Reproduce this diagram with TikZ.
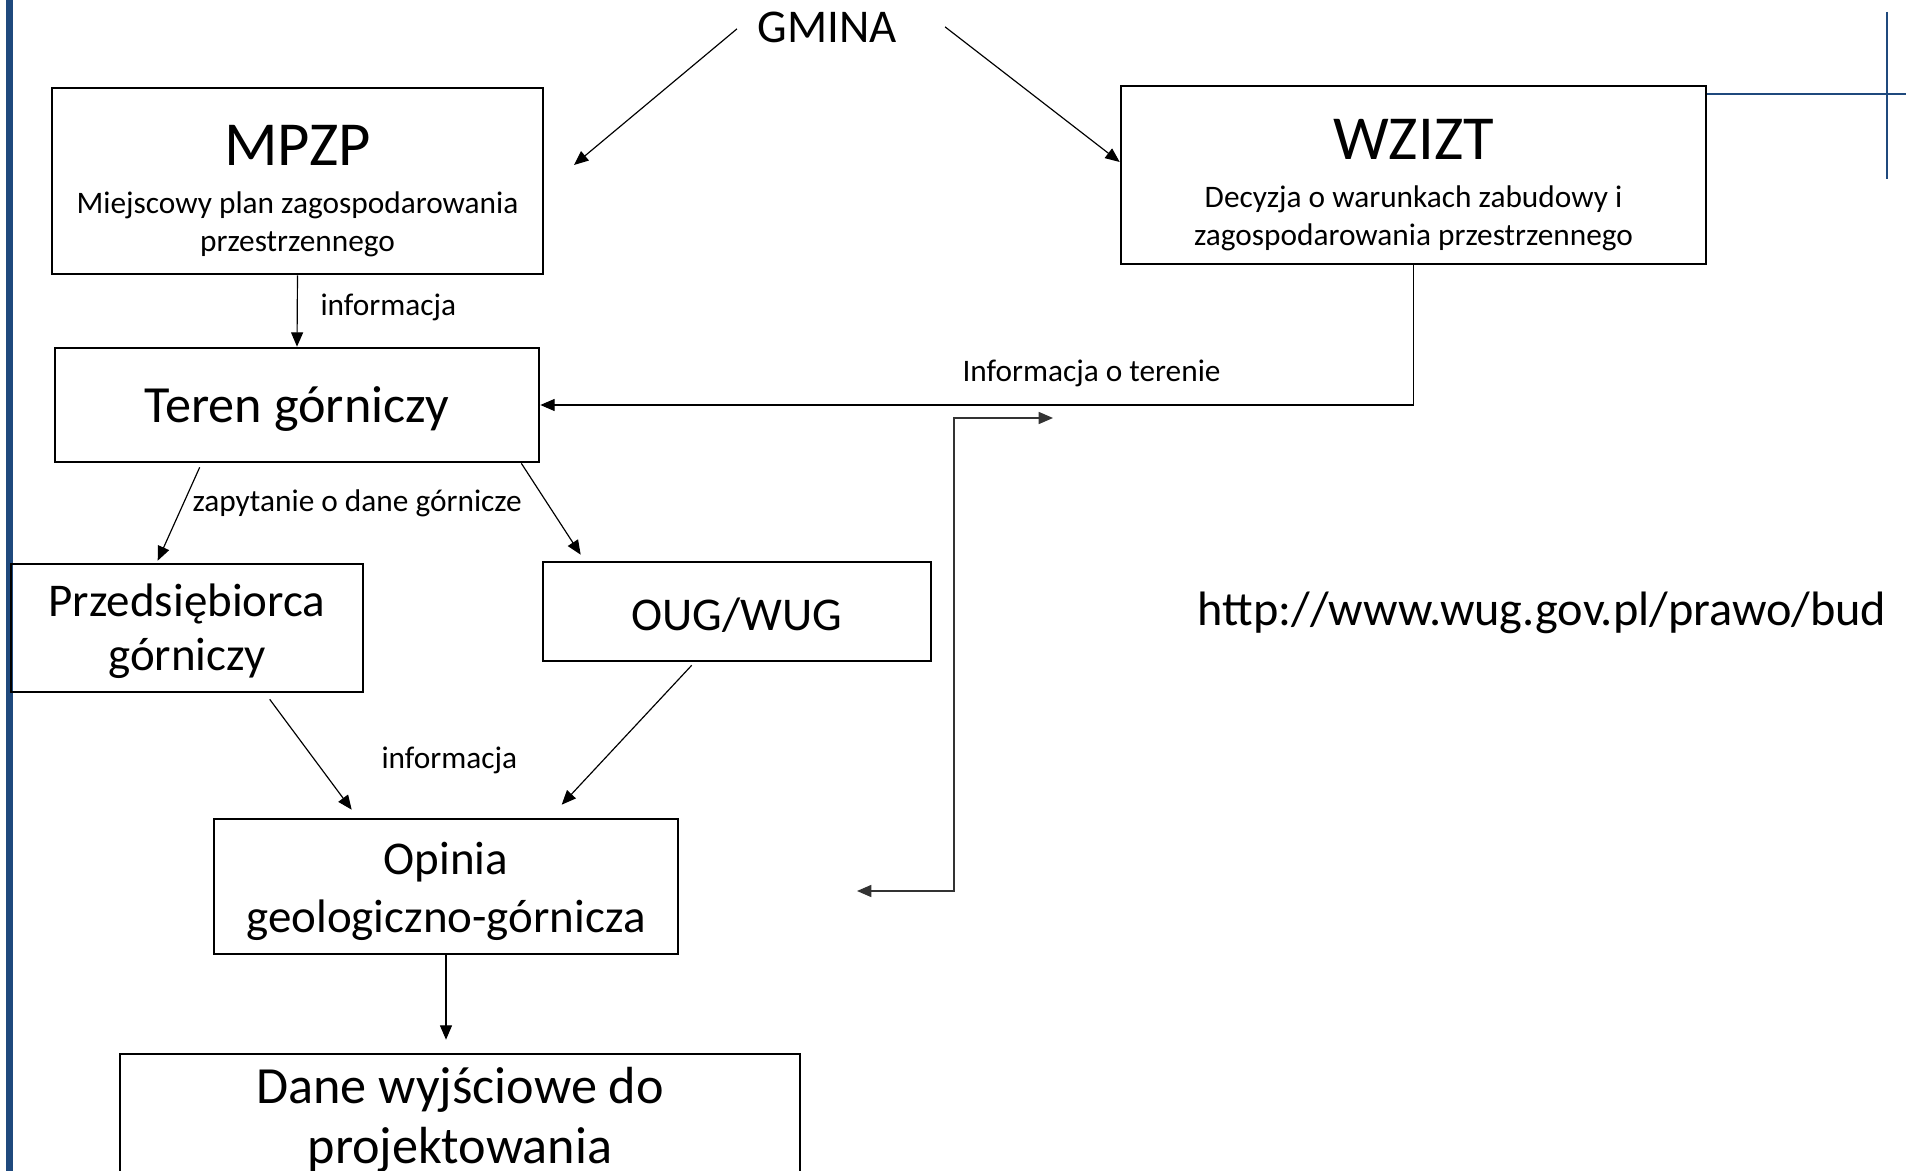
\documentclass[tikz,border=0pt]{standalone}
\usepackage{fontspec}
\setmainfont{Carlito}
\usetikzlibrary{arrows.meta,calc,positioning}
\newdimen\pxu \pxu=0.38314pt
\definecolor{slideblue}{RGB}{31,73,125}
\newcommand{\boxtitle}[1]{\rule{0pt}{23pt}{\fontsize{24}{28}\selectfont #1}}

\begin{document}
\begin{tikzpicture}[x=0.38314pt, y=-0.38314pt,
  >={Triangle[length=5.5pt,width=4.6pt]},
  box/.style={draw, line width=1pt, align=center, inner sep=0pt},
  small/.style={font=\fontsize{12}{14.5}\selectfont},
  mid/.style={font=\fontsize{18}{21}\selectfont},
  big/.style={font=\fontsize{20}{23}\selectfont},
  lbl/.style={small, inner sep=0pt, anchor=base west},
  arr/.style={->, line width=0.45pt},
]
  \clip (0,0) rectangle (1906,1171);
  \fill[white] (0,0) rectangle (1906,1171);

  % slide decoration
  \fill[slideblue] (6,0) rectangle (13,1171);

  % boxes
  \node[mid, anchor=base, inner sep=0pt] (gmina) at (827,43) {GMINA};
  \node[box, small, minimum width=491\pxu, minimum height=186\pxu] (mpzp) at (297.5,181)
    {\boxtitle{MPZP}\\[4pt] Miejscowy plan zagospodarowania\\ przestrzennego};
  \node[box, small, minimum width=585\pxu, minimum height=178\pxu] (wzizt) at (1413.5,175)
    {\boxtitle{WZIZT}\\[4pt] Decyzja o warunkach zabudowy i\\ zagospodarowania przestrzennego};
  \node[box, big, minimum width=484\pxu, minimum height=114\pxu] (teren) at (297,405) {\rule{0pt}{17pt}Teren górniczy};
  \node[box, mid, minimum width=352\pxu, minimum height=128\pxu] (przed) at (187,628) {\rule{0pt}{15pt}Przedsiębiorca\\górniczy};
  \node[box, mid, minimum width=388\pxu, minimum height=99\pxu] (oug) at (737,611.5) {\rule{0pt}{15pt}OUG/WUG};
  \node[box, mid, font=\fontsize{18}{22}\selectfont, minimum width=464\pxu, minimum height=135\pxu] (opinia) at (446,886.5) {\rule{0pt}{16pt}Opinia\\geologiczno-górnicza};
  \node[box, big, minimum width=680\pxu, minimum height=132\pxu] (dane) at (460,1120) {Dane wyjściowe do\\projektowania};
  \node[font=\fontsize{18.5}{21}\selectfont, anchor=base west, inner sep=0pt] (url) at (1197,625) {http://www.wug.gov.pl/prawo/bud};

  % labels
  \node[lbl] (infoA) at (320,316) {informacja};
  \node[lbl] (infoT) at (962,382) {Informacja o terenie};
  \node[lbl] (zapyt) at (192,511) {zapytanie o dane górnicze};
  \node[lbl] (infoB) at (381,768) {informacja};

  % connectors
  \coordinate (mpzpIn) at (574,165);
  \draw[arr] ($(gmina.west)+(-20,1)$) -- (mpzpIn);
  \draw[arr] ($(gmina.east)+(48,-1)$) -- ($(wzizt.west)+(0,-13)$);
  \draw[arr] (mpzp.south) -- (teren.north);
  \draw[arr] (wzizt.south) |- (teren.east);
  \draw[arr] ($(teren.south west)+(146,4)$) -- ($(przed.north west)+(148,-2)$);
  \draw[arr] ($(teren.south east)+(-19,0)$) -- ($(oug.north west)+(39,-6)$);
  \draw[arr] ($(przed.south west)+(260,6)$) -- ($(opinia.north west)+(139,-8)$);
  \draw[arr] ($(oug.south west)+(150,3)$) -- ($(opinia.north west)+(349,-13)$);
  \draw[arr, shorten >=13\pxu] (opinia.south) -- (opinia.south |- dane.north);

  \coordinate (linkL) at (857,891);
  \coordinate (linkR) at (1053,418);
  \draw[<->, line width=0.6pt, black!80] (linkL) -| ($(linkR)+(-99,0)$) -- (linkR);

  % corner lines
  \coordinate (edgeR) at (1906,94);
  \draw[slideblue, line width=0.8pt] (wzizt.east |- edgeR) -- (edgeR);
  \draw[slideblue, line width=0.8pt] (1887,12) -- (1887,179);
\end{tikzpicture}
\end{document}
